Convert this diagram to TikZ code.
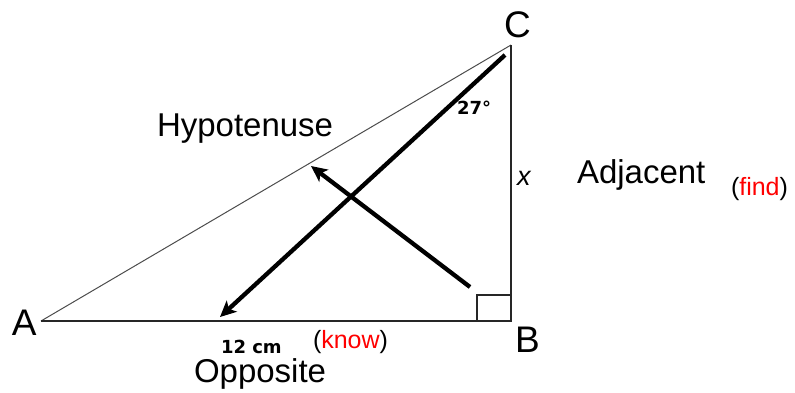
\documentclass[tikz,border=0pt]{standalone}
\usepackage{fontspec}
\setmainfont{Liberation Sans}
\newfontfamily\boldfont{DejaVu Sans}
\usetikzlibrary{arrows.meta}
\definecolor{knowred}{RGB}{255,0,0}
\tikzset{
  lbl/.style={anchor=base west, inner sep=0pt, outer sep=0pt},
  big/.style={lbl, font=\fontsize{33}{33}\selectfont},
  vert/.style={lbl, font=\fontsize{37}{37}\selectfont},
  small/.style={lbl, font=\fontsize{25}{25}\selectfont},
  tiny/.style={lbl, font=\boldfont\bfseries\fontsize{18}{18}\selectfont},
  leg/.style={line width=1.5pt, black!85},
  hyp/.style={line width=1pt, black!70},
  bigarrow/.style={line width=4.3pt, -{Stealth[length=16pt,width=15pt,inset=4pt]}},
}
\begin{document}
\begin{tikzpicture}[x=1pt,y=-1pt]
\useasboundingbox (0,0) rectangle (795,392);
\coordinate (A) at (41,321);
\coordinate (B) at (511,321);
\coordinate (C) at (511,45);
\coordinate (s1) at (477,321);
\coordinate (s2) at (477,295);
\coordinate (s3) at (511,295);
\coordinate (a1s) at (505,55);
\coordinate (a1e) at (220,317);
\coordinate (a2s) at (470,287);
\coordinate (a2e) at (311,166);
\draw[hyp] (A) -- (C);
\draw[leg] (A) -- (B) -- (C);
\draw[line width=1.2pt, black!85] (s1) -- (s2) -- (s3);
\draw[bigarrow] (a1s) -- (a1e);
\draw[bigarrow] (a2s) -- (a2e);
\node[vert] (lA) at (12,335) {A};
\node[vert] (lB) at (515,352) {B};
\node[vert] (lC) at (504,37) {C};
\node[big] (hyp) at (157,136) {Hypotenuse};
\node[big] (adj) at (577,183) {Adjacent};
\node[big, text height=24pt] (opp) at (194,382) {Opposite};
\node[lbl, font=\itshape\fontsize{27}{27}\selectfont] (x) at (517,185) {x};
\node[small] (find) at (731,195) {(\textcolor{knowred}{find})};
\node[small] (know) at (313,348) {(\textcolor{knowred}{know})};
\node[tiny] (cm) at (221,353) {12 cm};
\node[tiny] (ang) at (457,114) {27°};
\end{tikzpicture}
\end{document}
